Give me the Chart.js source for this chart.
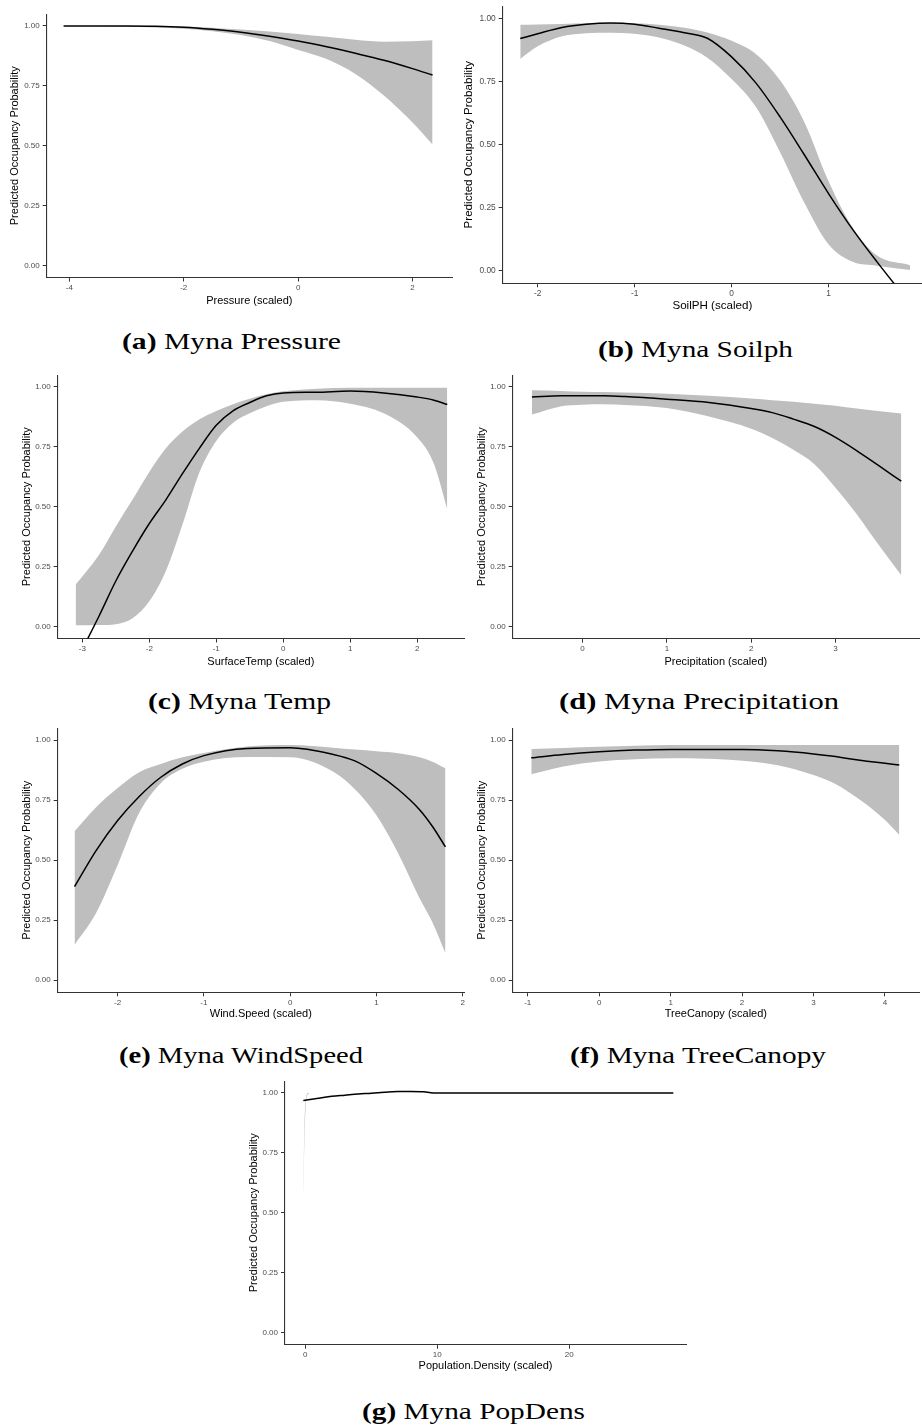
<!DOCTYPE html>
<html><head><meta charset="utf-8">
<script src="https://cdn.jsdelivr.net/npm/chart.js@4.4.1/dist/chart.umd.min.js"></script>
<style>
html,body{margin:0;padding:0;background:#fff;overflow:hidden;}
body{width:922px;height:1426px;position:relative;}
canvas{position:absolute;}
.cap{position:absolute;font-family:"Liberation Serif","Times New Roman",serif;font-size:23px;line-height:23px;white-space:nowrap;color:#000;transform-origin:0 0;}
.cap b{font-weight:bold;}
</style></head><body>
<script>
// ---------- DATA ----------
const yTicks = [0, 0.25, 0.5, 0.75, 1];
const yRange = [-0.05, 1.05];
const yTitle = 'Predicted Occupancy Probability';

// (a) Pressure
const pressureX = [-4.1,-3.5,-3,-2.5,-2,-1.5,-1,-0.5,0,0.5,1,1.5,2,2.35];
const pressureFit = [1.0,1.0,1.0,0.999,0.995,0.986,0.974,0.957,0.937,0.913,0.886,0.857,0.822,0.795];
const pressureLower = [0.999,0.999,0.997,0.994,0.988,0.978,0.962,0.937,0.90,0.862,0.80,0.71,0.597,0.505];
const pressureUpper = [1.0,1.0,1.0,1.0,0.998,0.993,0.985,0.977,0.967,0.955,0.942,0.934,0.936,0.94];
const pressureTicks = [-4,-2,0,2];
const pressureRange = [-4.395, 2.69];

// (b) SoilPH
const soilX = [-2.18,-2,-1.75,-1.5,-1.25,-1,-0.75,-0.5,-0.25,0,0.25,0.5,0.75,1,1.25,1.5,1.84];
const soilFit = [0.921,0.94,0.965,0.978,0.983,0.978,0.962,0.945,0.922,0.848,0.745,0.61,0.46,0.306,0.163,0.035,-0.13];
const soilLower = [0.84,0.89,0.93,0.942,0.944,0.94,0.925,0.895,0.845,0.76,0.65,0.47,0.27,0.105,0.035,0.02,0.003];
const soilUpper = [0.976,0.977,0.979,0.982,0.983,0.982,0.976,0.965,0.945,0.912,0.86,0.755,0.59,0.355,0.17,0.06,0.022];
const soilTicks = [-2,-1,0,1];
const soilRange = [-2.361, 1.964];

// (c) SurfaceTemp
const tempX = [-3.1,-2.75,-2.5,-2.25,-2,-1.75,-1.5,-1.25,-1,-0.75,-0.5,-0.25,0,0.5,1,1.5,2,2.25,2.45];
const tempFit = [-0.15,0.044,0.19,0.315,0.43,0.53,0.64,0.745,0.84,0.9,0.935,0.963,0.975,0.978,0.983,0.975,0.958,0.945,0.927];
const tempLower = [0.005,0.006,0.01,0.035,0.105,0.234,0.43,0.645,0.775,0.85,0.89,0.92,0.938,0.945,0.93,0.89,0.79,0.68,0.49];
const tempUpper = [0.175,0.30,0.418,0.53,0.645,0.745,0.815,0.865,0.90,0.928,0.951,0.97,0.982,0.993,0.997,0.997,0.997,0.997,0.997];
const tempTicks = [-3,-2,-1,0,1,2];
const tempRange = [-3.368, 2.70];

// (d) Precipitation
const precipX = [-0.6,-0.25,0,0.25,0.5,1,1.5,2,2.25,2.5,2.75,3,3.25,3.5,3.78];
const precipFit = [0.958,0.963,0.963,0.963,0.96,0.949,0.935,0.91,0.893,0.866,0.835,0.79,0.735,0.675,0.607];
const precipLower = [0.885,0.92,0.926,0.928,0.925,0.912,0.877,0.826,0.787,0.738,0.678,0.58,0.47,0.347,0.215];
const precipUpper = [0.986,0.983,0.98,0.979,0.977,0.972,0.963,0.952,0.945,0.938,0.93,0.922,0.91,0.90,0.889];
const precipTicks = [0,1,2,3];
const precipRange = [-0.828, 3.99];

// (e) WindSpeed
const windX = [-2.5,-2.25,-2,-1.75,-1.5,-1.25,-1,-0.5,0,0.5,0.75,1,1.25,1.5,1.65,1.8];
const windFit = [0.39,0.54,0.665,0.765,0.845,0.9,0.935,0.965,0.968,0.94,0.913,0.861,0.795,0.71,0.64,0.555];
const windLower = [0.147,0.28,0.48,0.697,0.82,0.88,0.91,0.929,0.928,0.868,0.795,0.687,0.53,0.341,0.24,0.112];
const windUpper = [0.62,0.72,0.80,0.866,0.90,0.928,0.946,0.973,0.979,0.968,0.96,0.953,0.945,0.928,0.91,0.882];
const windTicks = [-2,-1,0,1,2];
const windRange = [-2.695, 2.015];

// (f) TreeCanopy
const treeX = [-0.95,-0.5,0,0.5,1,1.5,2,2.5,3,3.25,3.5,3.75,4,4.2];
const treeFit = [0.926,0.94,0.951,0.958,0.961,0.961,0.961,0.955,0.942,0.933,0.922,0.912,0.903,0.896];
const treeLower = [0.857,0.89,0.911,0.92,0.924,0.922,0.914,0.895,0.854,0.825,0.782,0.73,0.667,0.605];
const treeUpper = [0.963,0.967,0.972,0.976,0.979,0.979,0.979,0.979,0.979,0.979,0.979,0.979,0.979,0.979];
const treeTicks = [-1,0,1,2,3,4];
const treeRange = [-1.21, 4.476];

// (g) Population density
const popLineX = [-0.15,1,2,3,4,5,6,7,8,9,9.5,10,15,20,25,27.9];
const popFit = [0.969,0.978,0.986,0.991,0.996,0.999,1.003,1.006,1.006,1.005,1.001,1.0,1.0,1.0,1.0,1.0];
const popBandX = [-0.15,-0.08,0.03,0.23,0.48];
const popLower = [0.553,0.775,0.942,0.997,1.0];
const popUpper = [0.62,0.84,0.972,1.0,1.0];
const popTicks = [0,10,20];
const popRange = [-1.54, 28.86];

const xTitles = ['Pressure (scaled)','SoilPH (scaled)','SurfaceTemp (scaled)','Precipitation (scaled)','Wind.Speed (scaled)','TreeCanopy (scaled)','Population.Density (scaled)'];
const capLabels = ['(a)','(b)','(c)','(d)','(e)','(f)','(g)'];
const capTexts = ['Myna Pressure','Myna Soilph','Myna Temp','Myna Precipitation','Myna WindSpeed','Myna TreeCanopy','Myna PopDens'];

// ---------- LAYOUT (page pixel geometry) ----------
const panels = [
 {lineX:pressureX, fit:pressureFit, bandX:pressureX, lower:pressureLower, upper:pressureUpper, ticks:pressureTicks, range:pressureRange,
  plotLeft:46.7, plotRight:452, plotTop:13.5, plotBottom:277.5, yTitleX:15, xTitleY:301, titleSize:11, tickSize:8},
 {lineX:soilX, fit:soilFit, bandX:soilX, lower:soilLower, upper:soilUpper, ticks:soilTicks, range:soilRange,
  plotLeft:502.7, plotRight:922, plotTop:5.7, plotBottom:283.3, yTitleX:469.3, xTitleY:306, titleSize:11.6, tickSize:8.4},
 {lineX:tempX, fit:tempFit, bandX:tempX, lower:tempLower, upper:tempUpper, ticks:tempTicks, range:tempRange,
  plotLeft:57.7, plotRight:463.5, plotTop:374.7, plotBottom:638.5, yTitleX:26.7, xTitleY:662, titleSize:11, tickSize:8},
 {lineX:precipX, fit:precipFit, bandX:precipX, lower:precipLower, upper:precipUpper, ticks:precipTicks, range:precipRange,
  plotLeft:512.7, plotRight:919, plotTop:374.7, plotBottom:638.7, yTitleX:481.7, xTitleY:662, titleSize:11, tickSize:8},
 {lineX:windX, fit:windFit, bandX:windX, lower:windLower, upper:windUpper, ticks:windTicks, range:windRange,
  plotLeft:57.7, plotRight:464.3, plotTop:728, plotBottom:992.3, yTitleX:26.7, xTitleY:1014.3, titleSize:11, tickSize:8},
 {lineX:treeX, fit:treeFit, bandX:treeX, lower:treeLower, upper:treeUpper, ticks:treeTicks, range:treeRange,
  plotLeft:512.7, plotRight:919, plotTop:728, plotBottom:992.3, yTitleX:481.7, xTitleY:1014.3, titleSize:11, tickSize:8},
 {lineX:popLineX, fit:popFit, bandX:popBandX, lower:popLower, upper:popUpper, ticks:popTicks, range:popRange,
  plotLeft:285, plotRight:685.7, plotTop:1080.7, plotBottom:1344.7, yTitleX:253.3, xTitleY:1366.7, titleSize:11, tickSize:8}
];
const capPos = [
 {left:121.7, baseline:349, width:219},
 {left:598.3, baseline:357, width:195},
 {left:148.3, baseline:709.5, width:183},
 {left:559, baseline:709.5, width:280},
 {left:118.8, baseline:1063.5, width:244},
 {left:569.5, baseline:1063.5, width:256},
 {left:361.7, baseline:1419.5, width:223}
];

const pts = (xs, ys) => xs.map((x, i) => ({x: x, y: ys[i]}));
const PADR = 8;

function makeChart(p, i) {
  const tlh = p.titleSize * 1.2;
  const cl = Math.round(p.yTitleX - tlh / 2);
  const ct = Math.round(p.plotTop);
  const cr = Math.round(p.plotRight) + PADR;
  const cb = Math.round(p.xTitleY + tlh / 2);
  const W = cr - cl, H = cb - ct;
  const yw = p.plotLeft - cl;
  const xh = cb - p.plotBottom;
  const cv = document.createElement('canvas');
  cv.width = W; cv.height = H;
  cv.style.left = cl + 'px'; cv.style.top = ct + 'px';
  cv.style.width = W + 'px'; cv.style.height = H + 'px';
  document.body.appendChild(cv);
  const zeroPad = s => { s.paddingLeft = 0; s.paddingRight = 0; s.paddingTop = 0; s.paddingBottom = 0; };
  const gridOpt = {display: true, drawOnChartArea: false, drawTicks: true, tickLength: 4, color: '#333333', lineWidth: 1};
  const borderOpt = {display: true, color: '#333333', width: 1.1};
  new Chart(cv, {
    type: 'line',
    data: {datasets: [
      {data: pts(p.lineX, p.fit), borderColor: '#000000', borderWidth: 1.5, pointRadius: 0, fill: false, cubicInterpolationMode: 'monotone'},
      {data: pts(p.bandX, p.lower), borderColor: 'rgba(0,0,0,0)', borderWidth: 0, pointRadius: 0, fill: false, cubicInterpolationMode: 'monotone'},
      {data: pts(p.bandX, p.upper), borderColor: 'rgba(0,0,0,0)', borderWidth: 0, backgroundColor: '#BEBEBE', pointRadius: 0, fill: '-1', cubicInterpolationMode: 'monotone'}
    ]},
    options: {
      responsive: false, animation: false, devicePixelRatio: 1, events: [],
      layout: {padding: {left: 0, top: 0, bottom: 0, right: PADR}},
      plugins: {legend: {display: false}, tooltip: {enabled: false}, title: {display: false}},
      scales: {
        x: {
          type: 'linear', min: p.range[0], max: p.range[1],
          afterFit: s => { s.height = xh; zeroPad(s); },
          afterBuildTicks: s => { s.ticks = p.ticks.map(v => ({value: v})); },
          ticks: {font: {family: 'Liberation Sans', size: p.tickSize}, color: '#4D4D4D', padding: 1.5, maxRotation: 0, autoSkip: false, callback: v => String(v)},
          grid: gridOpt, border: borderOpt,
          title: {display: true, text: xTitles[i], color: '#000000', font: {family: 'Liberation Sans', size: p.titleSize, lineHeight: 1.2}, padding: 0}
        },
        y: {
          type: 'linear', min: yRange[0], max: yRange[1],
          afterFit: s => { s.width = yw; zeroPad(s); },
          afterBuildTicks: s => { s.ticks = yTicks.map(v => ({value: v})); },
          ticks: {font: {family: 'Liberation Sans', size: p.tickSize}, color: '#4D4D4D', padding: 3, autoSkip: false, callback: v => Number(v).toFixed(2)},
          grid: gridOpt, border: borderOpt,
          title: {display: true, text: yTitle, color: '#000000', font: {family: 'Liberation Sans', size: p.titleSize, lineHeight: 1.2}, padding: 0}
        }
      }
    }
  });
}
panels.forEach(makeChart);

capPos.forEach((c, i) => {
  const d = document.createElement('div');
  d.className = 'cap';
  const b = document.createElement('b');
  b.textContent = capLabels[i];
  d.appendChild(b);
  d.appendChild(document.createTextNode(' ' + capTexts[i]));
  d.style.left = c.left + 'px';
  d.style.top = (c.baseline - 19.3) + 'px';
  document.body.appendChild(d);
  const w = d.getBoundingClientRect().width;
  d.style.transform = 'scaleX(' + (c.width / w).toFixed(4) + ')';
});
</script>
</body></html>
